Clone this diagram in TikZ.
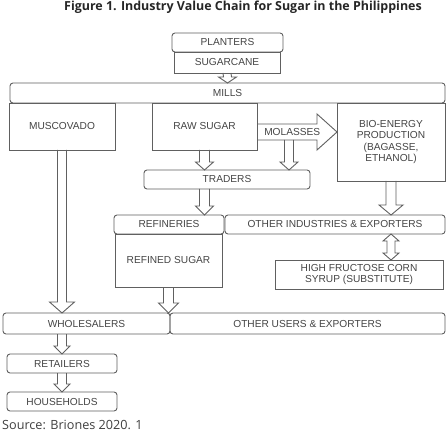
\documentclass[tikz,border=0pt]{standalone}
\usepackage{fontspec}
\setmainfont{Liberation Sans}
\newfontfamily\titlefont{Open Sans}
\usetikzlibrary{calc}
\definecolor{ln}{HTML}{606060}
\definecolor{tx}{HTML}{454545}
% #1 start, #2 tip, #3 half shaft, #4 half head, #5 head length (vertical, downward)
\newcommand\blockarrow[5]{%
  \draw[arr] ($(#1)+(-#3,0)$) -- ($(#2)+(-#3,-#5)$) -- ($(#2)+(-#4,-#5)$) -- (#2)
     -- ($(#2)+(#4,-#5)$) -- ($(#2)+(#3,-#5)$) -- ($(#1)+(#3,0)$);}
% #1 style, #2 name, #3 x1, #4 y1, #5 x2, #6 y2, #7 text
\newcommand\bx[7]{\node[#1, minimum width={(#5-#3)*1bp}, minimum height={(#6-#4)*1bp}]
  (#2) at ({(#3+#5)/2},{(#4+#6)/2}) {#7};}
\tikzset{
  base/.style={draw=ln, line width=0.9bp, inner sep=0pt, outer sep=0pt, text=tx,
    font=\fontsize{10.2}{11.3}\selectfont, align=center},
  rbox/.style={base, rounded corners=3bp},
  sbox/.style={base},
  arr/.style={draw=ln, line width=0.9bp, line join=miter},
}
\begin{document}
\begin{tikzpicture}[x=1bp,y=-1bp]
\fill[white] (0,0) rectangle (447,433);
\useasboundingbox (0,0) rectangle (447,433);

\node[font=\titlefont\bfseries\fontsize{12.5}{14}\selectfont, text=black!85] (title) at (243,7.5)
  {Figure 1. Industry Value Chain for Sugar in the Philippines};

\bx{rbox}{planters}{172}{33}{283}{52}{PLANTERS}
\bx{sbox}{sugarcane}{174}{52}{280}{73}{SUGARCANE}
\bx{rbox}{mills}{10}{83}{445}{103}{MILLS}
\bx{sbox}{musc}{9}{103}{115}{150}{MUSCOVADO}
\bx{sbox}{raw}{152}{103}{257}{150}{RAW SUGAR}
\bx{sbox}{bio}{337}{103}{445}{181}{BIO-ENERGY\\PRODUCTION\\(BAGASSE,\\ETHANOL)}
\bx{rbox}{traders}{144}{170}{310}{189}{TRADERS}
\bx{rbox}{refin}{114}{215}{224}{234}{REFINERIES}
\bx{rbox}{otherind}{225}{215}{445}{234}{OTHER INDUSTRIES \& EXPORTERS}
\bx{sbox}{refined}{115}{234}{222}{287}{REFINED SUGAR}
\bx{sbox}{hfcs}{275}{260}{443}{289}{HIGH FRUCTOSE CORN\\SYRUP (SUBSTITUTE)}
\bx{rbox}{whole}{3}{313}{170}{334}{WHOLESALERS}
\bx{rbox}{otherusers}{170}{313}{445}{334}{OTHER USERS \& EXPORTERS}
\bx{rbox}{retail}{7}{354}{117}{373}{RETAILERS}
\bx{rbox}{house}{7}{392}{117}{411}{HOUSEHOLDS}

\node[anchor=west, inner sep=0pt, font=\titlefont\fontsize{12.7}{14}\selectfont, text=black!75] (src)
  at (2,425) {Source: Briones 2020. 1};

% connectors
\blockarrow{sugarcane.south}{mills.north}{4}{9}{6}
\blockarrow{musc.south}{whole.north -| musc.south}{4.5}{12.5}{11}
\blockarrow{raw.south}{traders.north -| raw.south}{5}{9}{8}
\coordinate (mols) at ($(raw.south east)+(0,-18)$);
\coordinate (mole) at (mols -| bio.west);
\draw[arr] ($(mols)+(0,-8)$) -- ($(mole)+(-20,-8)$) -- ($(mole)+(-20,-18)$) -- (mole)
  -- ($(mole)+(-20,18)$) -- ($(mole)+(-20,8)$) -- ($(mols)+(0,8)$);
\node[text=tx, font=\fontsize{10.2}{11}\selectfont, inner sep=0pt] (mollab) at ($(mols)!0.44!(mole)$) {MOLASSES};
\coordinate (molbot) at ($(mols)+(32,8)$);
\blockarrow{molbot}{traders.north -| molbot}{4.5}{9}{8}
\blockarrow{traders.south -| raw.south}{refin.north -| raw.south}{5}{9}{9}
\blockarrow{bio.south}{otherind.north -| bio.south}{5}{12}{10}
\coordinate (dt) at (otherind.south -| bio.south);
\coordinate (db) at (hfcs.north -| bio.south);
\draw[arr] (dt) -- ($(dt)+(8,7)$) -- ($(dt)+(4,7)$) -- ($(db)+(4,-7)$) -- ($(db)+(8,-7)$) -- (db)
  -- ($(db)+(-8,-7)$) -- ($(db)+(-4,-7)$) -- ($(dt)+(-4,7)$) -- ($(dt)+(-8,7)$) -- cycle;
\blockarrow{refined.south}{whole.north -| refined.south}{5}{10}{10}
\blockarrow{whole.south -| retail.north}{retail.north}{4.5}{8}{8}
\blockarrow{retail.south}{house.north}{4.5}{8}{8}
\end{tikzpicture}
\end{document}
